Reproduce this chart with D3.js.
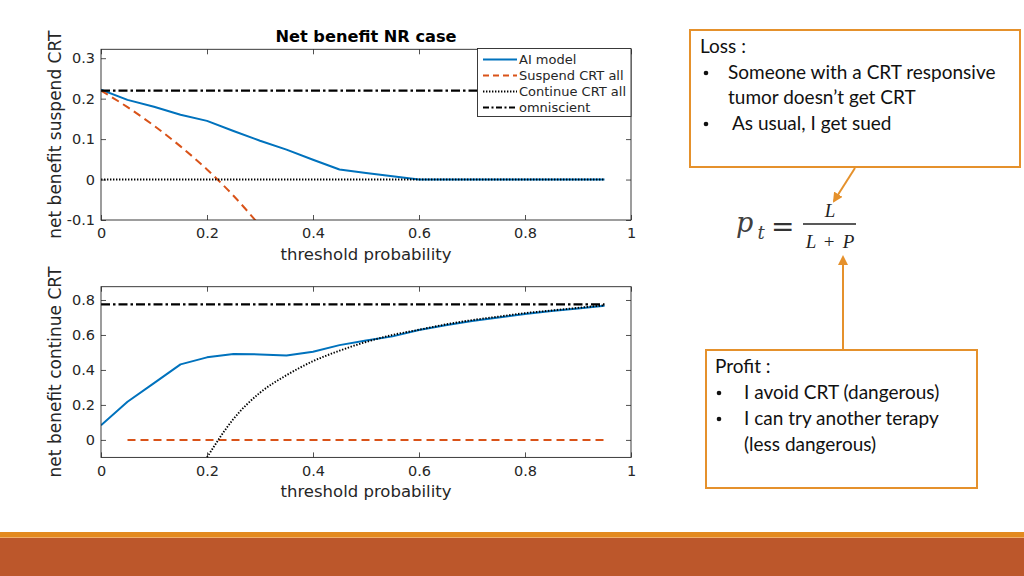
<!DOCTYPE html>
<html><head><meta charset="utf-8">
<script src="https://cdn.jsdelivr.net/npm/d3@7"></script>
<style>
html,body{margin:0;padding:0;background:#fff;}
svg{display:block;}
</style></head>
<body>
<svg id="c" width="1024" height="576"></svg>
<script>
// ---------- data ----------
const thresholds = [0,0.05,0.1,0.15,0.2,0.25,0.3,0.35,0.4,0.45,0.5,0.55,0.6,0.65,0.7,0.75,0.8,0.85,0.9,0.95];
const xTicks = [0,0.2,0.4,0.6,0.8,1];
const xTickLabels = ["0","0.2","0.4","0.6","0.8","1"];

// top panel: net benefit suspend CRT
const aiTop        = [0.222,0.197,0.180,0.160,0.145,0.120,0.096,0.074,0.049,0.025,0.016,0.008,0,0,0,0,0,0,0,0];
const suspendTopX  = [0,0.05,0.1,0.15,0.2,0.25,0.3];
const suspendTop   = [0.22,0.179,0.133,0.082,0.025,-0.040,-0.114];
const continueTop  = [0,0,0,0,0,0,0,0,0,0,0,0,0,0,0,0,0,0,0,0];
const omniTop      = [0.22,0.22,0.22,0.22,0.22,0.22,0.22,0.22,0.22,0.22,0.22,0.22,0.22,0.22,0.22,0.22,0.22,0.22,0.22,0.22];
const yTicksTop    = [-0.1,0,0.1,0.2,0.3];
const yTickLabelsTop = ["-0.1","0","0.1","0.2","0.3"];

// bottom panel: net benefit continue CRT
const aiBottom        = [0.084,0.218,0.325,0.432,0.472,0.491,0.489,0.483,0.504,0.542,0.569,0.592,0.628,0.655,0.680,0.700,0.720,0.737,0.752,0.767];
const suspendBottomX  = [0.05,0.1,0.15,0.2,0.25,0.3,0.35,0.4,0.45,0.5,0.55,0.6,0.65,0.7,0.75,0.8,0.85,0.9,0.95];
const suspendBottom   = [0,0,0,0,0,0,0,0,0,0,0,0,0,0,0,0,0,0,0];
const continueBottomX = [0.2,0.25,0.3,0.35,0.4,0.45,0.5,0.55,0.6,0.65,0.7,0.75,0.8,0.85,0.9,0.95];
const continueBottom  = [-0.10,0.12,0.27,0.37,0.45,0.51,0.56,0.60,0.63,0.66,0.685,0.705,0.725,0.74,0.755,0.77];
const omniBottom      = [0.775,0.775,0.775,0.775,0.775,0.775,0.775,0.775,0.775,0.775,0.775,0.775,0.775,0.775,0.775,0.775,0.775,0.775,0.775,0.775];
const yTicksBottom    = [0,0.2,0.4,0.6,0.8];
const yTickLabelsBottom = ["0","0.2","0.4","0.6","0.8"];

const legendLabels = ["AI model","Suspend CRT all","Continue CRT all","omniscient"];

// ---------- styles ----------
const BLUE = "#0072BD", ORANGE = "#D95319", AXC = "#262626";
const styles = [
  {stroke: BLUE,   width: 2,   dash: null,        legDash: null},
  {stroke: ORANGE, width: 2,   dash: "8,5",       legDash: "6,4"},
  {stroke: "#000", width: 1.9, dash: "1.4,1.6",   legDash: "1.4,1.6"},
  {stroke: "#000", width: 2.2, dash: "9,3,2.5,3", legDash: "6,2.5,2,2.5"}
];
const FONT = "'DejaVu Sans', sans-serif";

const svg = d3.select("#c");

function panel(id, top, bottom, yDomain, yTicks, yTickLabels, series, yLabel, title, legend) {
  const left = 101, right = 631;
  const x = d3.scaleLinear().domain([0,1]).range([left,right]);
  const y = d3.scaleLinear().domain(yDomain).range([bottom,top]);
  const g = svg.append("g");

  svg.append("clipPath").attr("id", id).append("rect")
    .attr("x", left).attr("y", top).attr("width", right-left).attr("height", bottom-top);

  const ax = (axis, tr) => {
    const a = g.append("g").attr("transform", tr).call(axis);
    a.select(".domain").remove();
    a.selectAll(".tick line").attr("stroke", AXC).attr("stroke-width", 0.8);
    a.selectAll("text").attr("fill", AXC).style("font-family", FONT).style("font-size", "14.5px");
    return a;
  };
  ax(d3.axisBottom(x).tickValues(xTicks).tickFormat((d,i)=>xTickLabels[i]).tickSizeInner(-5).tickSizeOuter(0).tickPadding(8), `translate(0,${bottom})`);
  ax(d3.axisTop(x).tickValues(xTicks).tickFormat("").tickSizeInner(-5).tickSizeOuter(0), `translate(0,${top})`);
  ax(d3.axisLeft(y).tickValues(yTicks).tickFormat((d,i)=>yTickLabels[i]).tickSizeInner(-5).tickSizeOuter(0).tickPadding(6), `translate(${left},0)`);
  ax(d3.axisRight(y).tickValues(yTicks).tickFormat("").tickSizeInner(-5).tickSizeOuter(0), `translate(${right},0)`);

  const lg = g.append("g").attr("clip-path", `url(#${id})`);
  series.forEach((s, i) => {
    const st = styles[i];
    const pts = s.x.map((v,j)=>[v, s.y[j]]);
    const line = d3.line().x(d=>x(d[0])).y(d=>y(d[1])).curve(s.smooth ? d3.curveMonotoneX : d3.curveLinear);
    lg.append("path").attr("d", line(pts)).attr("fill","none")
      .attr("stroke", st.stroke).attr("stroke-width", st.width)
      .attr("stroke-dasharray", st.dash).attr("stroke-linejoin","round");
  });

  g.append("rect").attr("x", left).attr("y", top).attr("width", right-left).attr("height", bottom-top)
    .attr("fill","none").attr("stroke", AXC).attr("stroke-width", 0.9);

  g.append("text").attr("x", (left+right)/2).attr("y", bottom+40).attr("text-anchor","middle")
    .style("font-family", FONT).style("font-size","16.5px").attr("fill", AXC).text("threshold probability");
  g.append("text").attr("transform", `translate(61,${(top+bottom)/2}) rotate(-90)`).attr("text-anchor","middle")
    .style("font-family", FONT).style("font-size","17px").attr("fill", AXC).text(yLabel);
  if (title) {
    g.append("text").attr("x", (left+right)/2).attr("y", top-7).attr("text-anchor","middle")
      .style("font-family", FONT).style("font-size","16.2px").style("font-weight","bold").attr("fill","#000").text(title);
  }
  if (legend) {
    const lx = 477.5, ly = 48.5, lw = right - 477.5, lh = 68;
    const L = g.append("g");
    L.append("rect").attr("x", lx).attr("y", ly).attr("width", lw).attr("height", lh)
      .attr("fill","#fff").attr("stroke", AXC).attr("stroke-width", 0.9);
    legendLabels.forEach((t,i) => {
      const yy = ly + 11 + i*16;
      L.append("line").attr("x1", 483).attr("x2", 517).attr("y1", yy).attr("y2", yy)
        .attr("stroke", styles[i].stroke).attr("stroke-width", styles[i].width)
        .attr("stroke-dasharray", styles[i].legDash);
      L.append("text").attr("x", 519).attr("y", yy).attr("dy","0.35em")
        .style("font-family", FONT).style("font-size","13px").attr("fill", AXC).text(t);
    });
  }
}

panel("clipTop", 49.3, 220, [-0.1, 0.322], yTicksTop, yTickLabelsTop, [
  {x: thresholds, y: aiTop},
  {x: suspendTopX, y: suspendTop, smooth: true},
  {x: thresholds, y: continueTop},
  {x: thresholds, y: omniTop}
], "net benefit suspend CRT", "Net benefit NR case", true);

panel("clipBot", 286.7, 457.4, [-0.1, 0.876], yTicksBottom, yTickLabelsBottom, [
  {x: thresholds, y: aiBottom},
  {x: suspendBottomX, y: suspendBottom},
  {x: continueBottomX, y: continueBottom, smooth: true},
  {x: thresholds, y: omniBottom}
], "net benefit continue CRT", null, false);

// ---------- right side annotations ----------
const BOX = "#E5912C";
const TF = "Lato, 'Open Sans', sans-serif";
const TS = "19px";
const defs = svg.append("defs");
defs.append("marker").attr("id","arr").attr("viewBox","0 0 10 10").attr("refX",8).attr("refY",5)
  .attr("markerWidth",5).attr("markerHeight",5).attr("orient","auto-start-reverse")
  .append("path").attr("d","M0,0 L10,5 L0,10 z").attr("fill", BOX);

function textBox(x0,y0,w,h,lines) {
  svg.append("rect").attr("x",x0).attr("y",y0).attr("width",w).attr("height",h)
    .attr("fill","#fff").attr("stroke",BOX).attr("stroke-width",2);
  lines.forEach(l => {
    if (l.bullet) svg.append("circle").attr("cx", l.bx).attr("cy", l.y-6).attr("r", 2.3).attr("fill","#111");
    svg.append("text").attr("x", l.x).attr("y", l.y).style("font-family",TF).style("font-size",TS).attr("fill","#111")
      .text(l.t);
  });
}
textBox(690, 30, 330, 137, [
  {t:"Loss :", x:700, y:53},
  {t:"Someone with a CRT responsive", x:728, y:79, bullet:true, bx:706},
  {t:"tumor doesn\u2019t get CRT", x:728, y:104},
  {t:"As usual, I get sued", x:732, y:130, bullet:true, bx:706}
]);
textBox(706, 350, 271, 138, [
  {t:"Profit :", x:715, y:373},
  {t:"I avoid CRT (dangerous)", x:744, y:399, bullet:true, bx:719},
  {t:"I can try another terapy", x:744, y:425, bullet:true, bx:719},
  {t:"(less dangerous)", x:744, y:451}
]);

// arrows
svg.append("line").attr("x1",855).attr("y1",168).attr("x2",834).attr("y2",201)
  .attr("stroke",BOX).attr("stroke-width",2).attr("marker-end","url(#arr)");
svg.append("line").attr("x1",843).attr("y1",349).attr("x2",843).attr("y2",257)
  .attr("stroke",BOX).attr("stroke-width",2).attr("marker-end","url(#arr)");

// formula
const MF = "'DejaVu Serif', serif";
const FF = "'Liberation Serif', serif";
svg.append("text").attr("x",736).attr("y",232).style("font-family",MF).style("font-style","italic").style("font-size","27px").attr("fill","#404040").text("p");
svg.append("text").attr("x",757.5).attr("y",239).style("font-family",MF).style("font-style","italic").style("font-size","18px").attr("fill","#404040").text("t");
svg.append("text").attr("x",771).attr("y",236).style("font-family",MF).style("font-size","28px").attr("fill","#333").text("=");
svg.append("line").attr("x1",803).attr("x2",856).attr("y1",224).attr("y2",224).attr("stroke","#222").attr("stroke-width",1.4);
svg.append("text").attr("x",830).attr("y",217).attr("text-anchor","middle").style("font-family",FF).style("font-style","italic").style("font-size","19px").attr("fill","#222").text("L");
svg.append("text").attr("x",811).attr("y",248).attr("text-anchor","middle").style("font-family",FF).style("font-style","italic").style("font-size","19px").attr("fill","#222").text("L");
svg.append("text").attr("x",829).attr("y",248).attr("text-anchor","middle").style("font-family",FF).style("font-size","19px").attr("fill","#222").text("+");
svg.append("text").attr("x",848.5).attr("y",248).attr("text-anchor","middle").style("font-family",FF).style("font-style","italic").style("font-size","19px").attr("fill","#222").text("P");

// bottom band
svg.append("rect").attr("x",0).attr("y",532).attr("width",1024).attr("height",6).attr("fill","#E38A1F");
svg.append("rect").attr("x",0).attr("y",537).attr("width",1024).attr("height",1).attr("fill","#F0AE6A");
svg.append("rect").attr("x",0).attr("y",538).attr("width",1024).attr("height",38).attr("fill","#BC572B");
</script>
</body></html>
